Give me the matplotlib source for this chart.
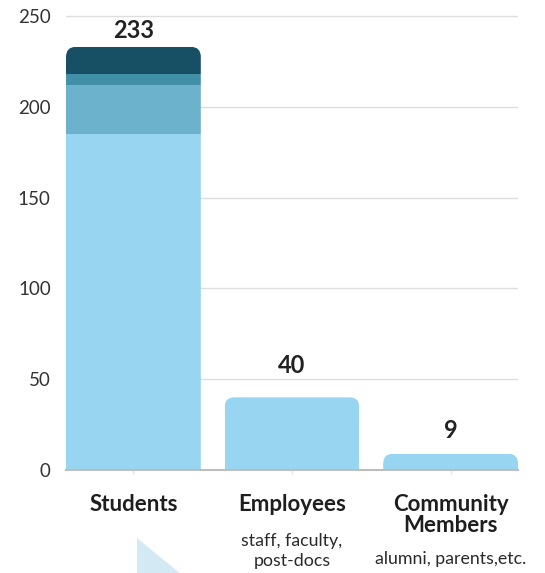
import matplotlib
matplotlib.use("Agg")
import matplotlib.pyplot as plt
from matplotlib.patches import FancyBboxPatch, Polygon

# ---- data ----
categories = ["Students", "Employees", "Community\nMembers"]
sublabels = ["", "staff, faculty,\npost-docs", "alumni, parents,etc."]
seg1 = [185, 40, 9]
seg2 = [27, 0, 0]
seg3 = [6, 0, 0]
seg4 = [15, 0, 0]
totals = [233, 40, 9]
yticks = [0, 50, 100, 150, 200, 250]

colors = ["#97D5F0", "#6CB2CD", "#428FA8", "#175064"]
FONT = ["Lato", "DejaVu Sans"]
plt.rcParams["font.family"] = FONT

W, H = 545, 573
fig = plt.figure(figsize=(W / 100, H / 100), dpi=100)
ax = fig.add_axes([66 / W, 103 / H, 452 / W, 463.1 / H])

x = list(range(len(categories)))
bw = 0.85
ax.set_xlim(-0.425, 2.425)
ax.set_ylim(0, 255)

# rounded-top clip shapes
px_per_x = 452 / 2.85
px_per_y = 463.1 / 255
r_px = 10
r_x = r_px / px_per_x
asp = (r_px / px_per_y) / r_x

bottoms = [0, 0, 0]
all_bars = []
for seg, c in zip([seg1, seg2, seg3, seg4], colors):
    bars = ax.bar(x, seg, width=bw, bottom=bottoms, color=c, zorder=3, linewidth=0)
    all_bars.append(bars)
    bottoms = [b + s for b, s in zip(bottoms, seg)]

for i, t in enumerate(totals):
    clip = FancyBboxPatch((x[i] - bw / 2, -60), bw, t + 60,
                          boxstyle=f"round,pad=0,rounding_size={r_x}",
                          mutation_aspect=asp, transform=ax.transData,
                          facecolor="none", edgecolor="none")
    for bars in all_bars:
        bars[i].set_clip_path(clip)

# value labels (offset of label centre above bar top, in points)
label_offsets = [12, 23, 16.5]
for i, t in enumerate(totals):
    ax.annotate(str(t), (x[i], t), xytext=(0, label_offsets[i]), textcoords="offset points",
                ha="center", va="center", fontsize=17, color="#222222",
                fontweight="bold", zorder=5)

# grid & axes
ax.set_yticks(yticks)
ax.set_yticklabels([str(v) for v in yticks], fontsize=13.5, color="#333333")
ax.yaxis.grid(True, color="#dedede", linewidth=1, zorder=0)
ax.set_axisbelow(True)
for s in ["top", "right", "left"]:
    ax.spines[s].set_visible(False)
ax.spines["bottom"].set_color("#bdbdbd")
ax.spines["bottom"].set_linewidth(1.5)
ax.spines["bottom"].set_zorder(4)
ax.tick_params(axis="y", length=0, pad=11)
ax.set_xticks(x)
ax.set_xticklabels([])
ax.tick_params(axis="x", length=3, color="#e4e4e4", width=1)

# category labels
for i, c in enumerate(categories):
    ax.annotate(c, (x[i], H - 494), xycoords=("data", "figure pixels"),
                ha="center", va="top", fontsize=16, color="#1e1e1e",
                fontweight="bold", linespacing=1.0)
sub_y = [0, H - 533, H - 551]
for i, s in enumerate(sublabels):
    if s:
        ax.annotate(s, (x[i], sub_y[i]), xycoords=("data", "figure pixels"),
                    ha="center", va="top", fontsize=12.8, color="#2a2a2a",
                    linespacing=1.3)

# decorative triangle
tri = [(137, 538), (182, 575), (137, 575)]
fig.patches.append(Polygon([(px / W, 1 - py / H) for px, py in tri], closed=True,
                           transform=fig.transFigure, facecolor="#d3e9f4",
                           edgecolor="none", zorder=0))

fig.savefig("out.png", dpi=100)
